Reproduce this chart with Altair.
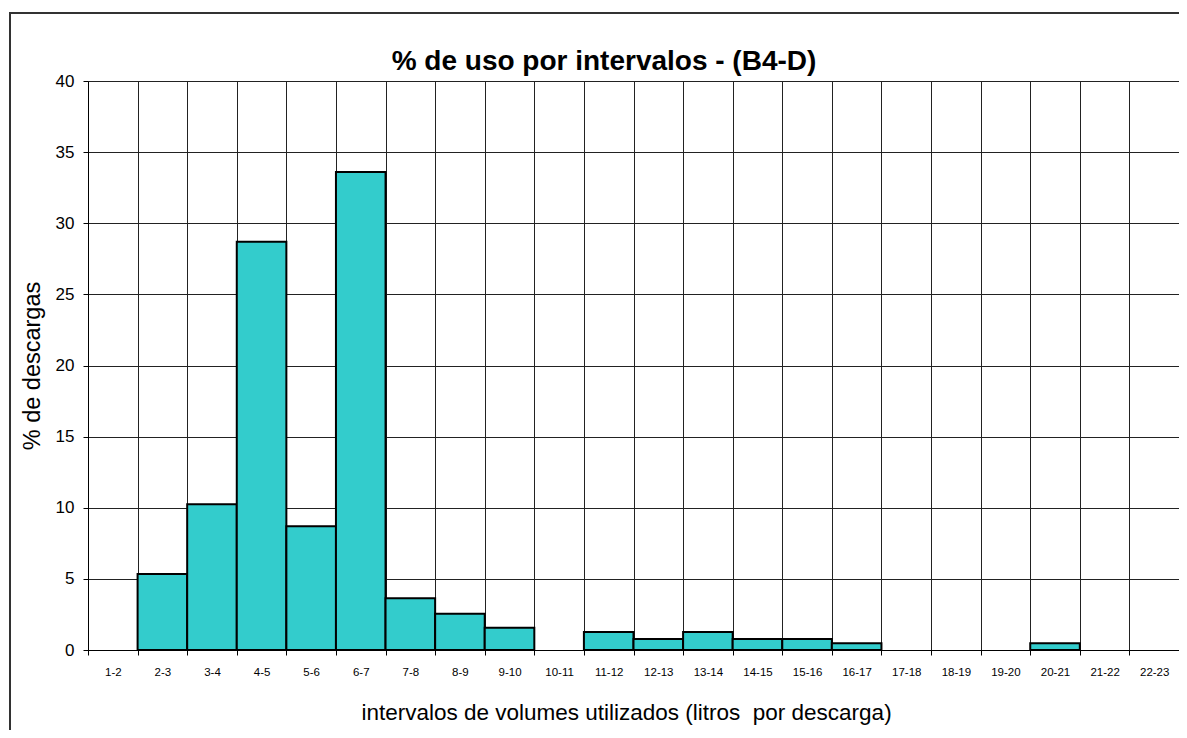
import altair as alt
import pandas as pd

categories = ["1-2", "2-3", "3-4", "4-5", "5-6", "6-7", "7-8", "8-9", "9-10", "10-11",
              "11-12", "12-13", "13-14", "14-15", "15-16", "16-17", "17-18", "18-19",
              "19-20", "20-21", "21-22", "22-23"]
values = [0, 5.34, 10.25, 28.7, 8.7, 33.6, 3.63, 2.55, 1.57, 0,
          1.27, 0.77, 1.27, 0.77, 0.77, 0.47, 0, 0,
          0, 0.47, 0, 0]
y_ticks = [0, 5, 10, 15, 20, 25, 30, 35, 40]
title_text = "% de uso por intervalos - (B4-D)"

df = pd.DataFrame({"cat": categories, "val": values})
FONT = "Liberation Sans"

x_enc = alt.X("cat:N", sort=categories,
              scale=alt.Scale(domain=categories, paddingInner=0, paddingOuter=0),
              axis=alt.Axis(title="intervalos de volumes utilizados (litros\u00a0 por descarga)",
                            labelAngle=0, labelFontSize=11.5, labelFont=FONT, labelColor="#000",
                            titleFont=FONT, titleFontSize=22.5, titleFontWeight="normal",
                            titleColor="#000", titlePadding=24, titleX=538,
                            tickBand="extent", tickSize=5, tickColor="#000",
                            domainColor="#000", grid=True, gridColor="#222",
                            labelPadding=11, labelOverlap=False))
y_enc = alt.Y("val:Q", scale=alt.Scale(domain=[0, 40], nice=False),
              axis=alt.Axis(title="% de descargas", values=y_ticks,
                            labelFontSize=17, labelFont=FONT, labelColor="#000",
                            titleFont=FONT, titleFontSize=23.5, titleFontWeight="normal",
                            titleColor="#000", titlePadding=11,
                            tickSize=5, tickColor="#000", domainColor="#000",
                            grid=True, gridColor="#222", labelPadding=9))

bars = alt.Chart(df).transform_filter("datum.val > 0").mark_bar(
    color="#33CCCC", stroke="#000", strokeWidth=2, opacity=1).encode(x=x_enc, y=y_enc)

frame = alt.Chart(df).mark_rect(fill=None, stroke="#333", strokeWidth=1.5,
                                clip=False).encode(
    x=alt.value(-78), x2=alt.value(1300), y=alt.value(-68), y2=alt.value(800))

title = alt.Chart(pd.DataFrame({"t": [title_text]})).mark_text(
    font=FONT, fontSize=28, fontWeight="bold", color="#000",
    align="center", baseline="alphabetic").encode(
    text="t:N", x=alt.value(516), y=alt.value(-11))

chart = alt.layer(bars, frame, title).properties(
    width=1091, height=569,
    autosize=alt.AutoSizeParams(type="none"),
    padding={"left": 80, "top": 73, "right": 0, "bottom": 80},
).configure_view(stroke="#000", strokeWidth=1).configure(background="white")

chart.save("out.html", embed_options={"renderer": "svg", "actions": False})
